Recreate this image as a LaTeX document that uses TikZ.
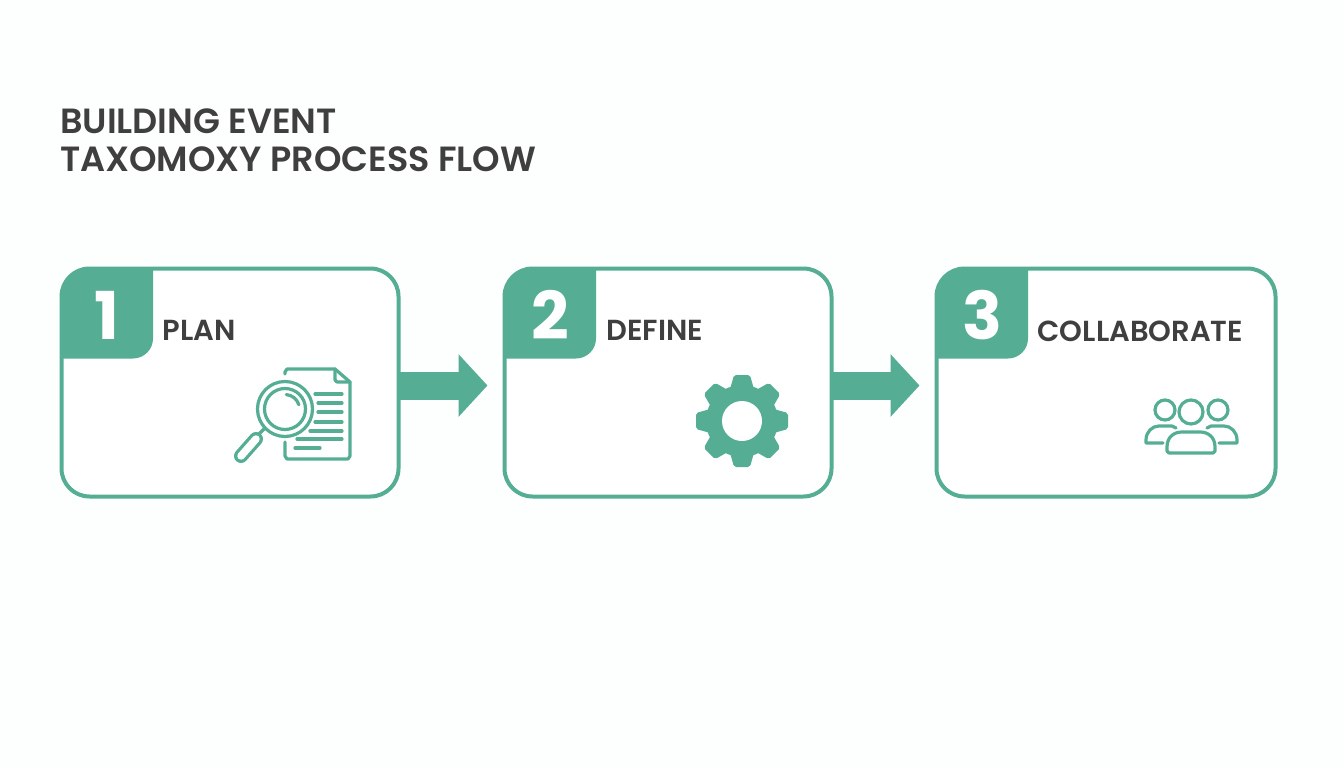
\documentclass[tikz,border=0pt]{standalone}
\usepackage{fontspec}
\setmainfont[BoldFont={Poppins SemiBold}]{Poppins}
\newfontfamily\numfont{Poppins Bold}
\usetikzlibrary{arrows.meta, positioning}
\definecolor{tealgreen}{HTML}{55AE93}
\definecolor{darktext}{HTML}{3F3F3F}
\definecolor{paper}{HTML}{FDFEFE}

\begin{document}
\begin{tikzpicture}[x=1pt, y=-1pt]
        % Define block styles
        \tikzstyle{card} = [rectangle, draw=tealgreen, fill=white, line width=4pt, rounded corners=28pt, minimum height=228pt, outer sep=0pt]
        \tikzstyle{tab} = [fill=tealgreen]
        \tikzstyle{number} = [text=white, font=\fontsize{66}{66}\numfont\selectfont, inner sep=0pt]
        \tikzstyle{cardlabel} = [text=darktext, font=\fontsize{29}{29}\selectfont\bfseries, inner sep=0pt]
        \tikzstyle{line} = [draw=tealgreen, line width=28pt, shorten >=17pt, -{Triangle[length=29pt, width=61pt]}]
        \tikzstyle{icon} = [draw=tealgreen, line width=3.2pt, line cap=round, line join=round]

        \fill[paper] (0,0) rectangle (1344,768);
        \useasboundingbox (0,0) rectangle (1344,768);

        % Define nodes
        \node [text=darktext, font=\fontsize{35}{38}\selectfont\bfseries, align=left, anchor=north west, inner sep=0pt] (title) at (60,109) {BUILDING EVENT\\TAXOMOXY PROCESS FLOW};
        \node [card, minimum width=337pt] (plan) at (230,382.5) {};
        \node [card, minimum width=327pt, right=106pt of plan] (define) {};
        \node [card, minimum width=339pt, right=105pt of define] (collab) {};

        % Number tabs
        \foreach \card/\num in {plan/1, define/2, collab/3} {
            \fill[tab] (\card.north west) ++(0,90) -- ++(0,-62) arc[start angle=180, end angle=270, radius=28] -- ++(63.5,0) -- ++(0,70) arc[start angle=0, end angle=90, radius=20] -- cycle;
            \path (\card.north west) ++(45.5,46.5) node[number] (num\num) {\num};
        }

        \node [cardlabel, below right=52pt and 101pt of plan.north west] (planlabel) {PLAN};
        \node [cardlabel, below right=52pt and 102pt of define.north west] (definelabel) {DEFINE};
        \node [cardlabel, below right=52pt and 101pt of collab.north west] (collablabel) {COLLABORATE};

        % Connect nodes with paths
        \draw[line] ([yshift=-3pt]plan.east) -- ([yshift=-3pt]define.west);
        \draw[line] ([yshift=-3pt]define.east) -- ([yshift=-3pt]collab.west);

        % Document and magnifier
        \draw[icon] (285,374) -- (285,372) -- (287,369) -- (335,369) -- (350,382) -- (350,456) -- (348,459) -- (287,459) -- (285,456) -- (285,442);
        \draw[icon] (335,369) -- (335,380) -- (337,382) -- (350,382);
        \foreach \y/\xa/\xb in {394/315/342, 403/318/342, 412/318/342, 422/315/342, 431/310/342, 439/297/342, 448/295/320} {
            \draw[icon] (\xa,\y) -- (\xb,\y);
        }
        \draw[icon] (285,409) circle[radius=27.5];
        \draw[icon] (285,409) circle[radius=20.5];
        \draw[icon] (285,409) ++(-85:14.5) arc[start angle=-85, end angle=-17, radius=14.5];
        \draw[icon] (259,434) -- (265,428);
        \draw[draw=tealgreen, line width=14pt, line cap=round] (241,456) -- (256,439);
        \draw[draw=white, line width=7.5pt, line cap=round] (241,456) -- (256,439);

        % Gear
        \fill[tealgreen] (742,421) circle[radius=36];
        \foreach \a in {0,45,...,315} {
            \fill[tealgreen, rotate around={\a:(742,421)}, rounded corners=2pt] (729,393) -- (734,375) -- (750,375) -- (755,393) -- cycle;
        }
        \fill[white] (742,421) circle[radius=20];

        % People
        \draw[icon] (1191,412) circle[radius=12];
        \draw[icon] (1165,410) circle[radius=10];
        \draw[icon] (1218,410) circle[radius=10];
        \draw[icon] (1167,447) .. controls (1167,437) and (1174,432) .. (1182,432) -- (1200,432) .. controls (1208,432) and (1215,437) .. (1215,447) -- (1215,451) -- (1213,453) -- (1169,453) -- (1167,451) -- cycle;
        \draw[icon] (1163,443) -- (1146,443) -- (1146,440) .. controls (1146,432) and (1152,426) .. (1159,426) -- (1172,426) -- (1176,428);
        \draw[icon] (1219,443) -- (1237,443) -- (1237,440) .. controls (1237,432) and (1231,426) .. (1224,426) -- (1211,426) -- (1207,428);
\end{tikzpicture}
\end{document}
